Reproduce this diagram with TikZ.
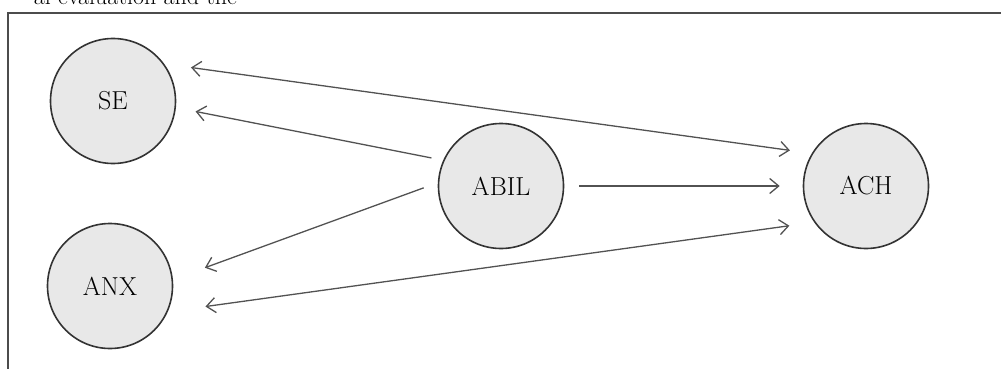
\documentclass[tikz,border=0pt]{standalone}
\usetikzlibrary{arrows.meta}
\begin{document}
\begin{tikzpicture}[x=1pt,y=-1pt,
  var/.style={circle,draw=black!80,line width=1.6pt,fill=black!9,minimum size=125pt,inner sep=0pt,font=\fontsize{26}{26}\selectfont},
  link/.style={draw=black!68,line width=1.3pt,-{Straight Barb[length=9pt,width=15pt,line width=1.3pt]}},
  both/.style={link,{Straight Barb[length=9pt,width=15pt,line width=1.3pt]}-{Straight Barb[length=9pt,width=15pt,line width=1.3pt]}},
  frameline/.style={draw=black!70,line width=1.8pt}]
\useasboundingbox (0,0) rectangle (1001,369);
\begin{scope}
\clip (0,0) rectangle (1001,369);
\node[anchor=base east,inner sep=0pt,font=\fontsize{24}{24}\selectfont] (hdr) at (237,5) {al evaluation and the};
\draw[frameline] (8,380) -- (8,13) -- (1010,13);
\node[var] (se) at (113,101) {SE};
\node[var] (anx) at (110,286) {ANX};
\node[var] (abil) at (501,186) {ABIL};
\node[var] (ach) at (866,186) {ACH};
\draw[both,shorten <=27pt,shorten >=22pt] (se.36.7) -- (ach.149.5);
\draw[link,shorten <=12pt,shorten >=20pt] (abil.156.6) -- (se.-6.5);
\draw[link,shorten <=15pt,shorten >=34pt] (abil.177) -- (anx.6.6);
\draw[link,shorten <=15pt,shorten >=23pt] (abil.east) -- (ach.west);
\draw[both,shorten <=38pt,shorten >=25pt] (anx.-24.7) -- (ach.215.4);
\end{scope}
\end{tikzpicture}
\end{document}
